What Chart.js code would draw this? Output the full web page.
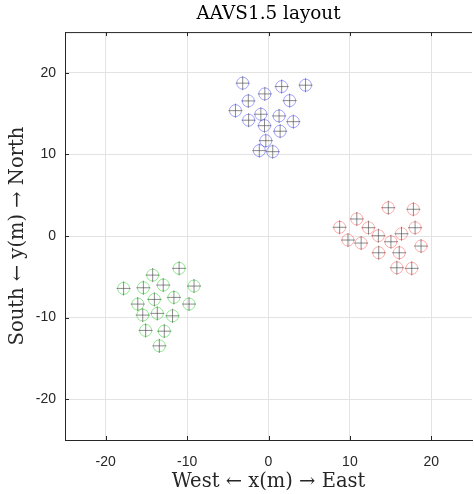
<!DOCTYPE html>
<html><head><meta charset="utf-8">
<script src="https://cdn.jsdelivr.net/npm/chart.js@4"></script>
<style>html,body{margin:0;padding:0;overflow:hidden;background:#fff;width:474px;height:494px}
#wrap{width:480px;height:494px;position:relative}</style></head>
<body><div id="wrap"><canvas id="c" width="480" height="494"></canvas></div>
<script>
// Tile positions (m)
const blueX = [-3.17, 1.62, 4.55, -0.45, -2.48, 2.60, -4.06, -0.94, 1.30, -2.44, 3.05, -0.49, 1.43, -0.33, -1.13, 0.52];
const blueY = [18.74, 18.32, 18.49, 17.42, 16.56, 16.60, 15.37, 14.93, 14.72, 14.20, 14.02, 13.53, 12.85, 11.69, 10.47, 10.34];
const redX = [14.72, 17.80, 10.85, 8.74, 12.28, 18.01, 13.50, 16.34, 9.76, 11.38, 15.04, 18.74, 13.54, 16.06, 15.77, 17.60];
const redY = [3.47, 3.28, 2.09, 1.07, 1.02, 1.02, 0.04, 0.28, -0.49, -0.86, -0.70, -1.23, -2.05, -2.05, -3.89, -3.96];
const greenX = [-10.98, -14.23, -17.80, -15.37, -12.93, -9.15, -16.06, -14.02, -11.62, -9.76, -15.45, -13.66, -11.79, -15.09, -12.80, -13.41];
const greenY = [-3.96, -4.79, -6.42, -6.34, -6.01, -6.13, -8.34, -7.77, -7.52, -8.34, -9.69, -9.48, -9.78, -11.57, -11.66, -13.46];
const xTicks = [-20, -10, 0, 10, 20];
const yTicks = [-20, -10, 0, 10, 20];

const pts = (xs, ys) => xs.map((x, i) => ({x: x, y: ys[i]}));
const axisCol = '#262626';
const crossCol = 'rgba(70,70,70,0.62)';

function circleSet(xs, ys, col) {
  return {data: pts(xs, ys), pointStyle: 'circle', pointRadius: 6, pointBorderWidth: 1,
    pointBorderColor: col, pointBackgroundColor: 'rgba(0,0,0,0)', showLine: false, order: 2};
}
function crossSet(xs, ys) {
  return {data: pts(xs, ys), pointStyle: 'cross', pointRadius: 7, pointBorderWidth: 1,
    pointBorderColor: crossCol, pointBackgroundColor: crossCol, showLine: false, order: 1};
}

const frame = {
  id: 'frame',
  afterDraw(chart) {
    const ctx = chart.ctx, a = chart.chartArea, sx = chart.scales.x, sy = chart.scales.y;
    ctx.save();
    ctx.strokeStyle = axisCol; ctx.lineWidth = 1;
    ctx.beginPath();
    ctx.moveTo(a.left, a.top + 0.5); ctx.lineTo(a.right, a.top + 0.5);
    xTicks.forEach(v => {
      const p = Math.round(sx.getPixelForValue(v)) + 0.5;
      ctx.moveTo(p, a.top); ctx.lineTo(p, a.top + 4);
      ctx.moveTo(p, a.bottom); ctx.lineTo(p, a.bottom - 4);
    });
    yTicks.forEach(v => {
      const p = Math.round(sy.getPixelForValue(v)) + 0.5;
      ctx.moveTo(a.left, p); ctx.lineTo(a.left + 4, p);
    });
    ctx.stroke();
    ctx.restore();
  }
};

new Chart(document.getElementById('c'), {
  type: 'scatter',
  data: {datasets: [
    crossSet(blueX, blueY), circleSet(blueX, blueY, 'rgba(40,40,255,0.42)'),
    crossSet(redX, redY), circleSet(redX, redY, 'rgba(255,40,40,0.38)'),
    crossSet(greenX, greenY), circleSet(greenX, greenY, 'rgba(30,210,30,0.48)')
  ]},
  plugins: [frame],
  options: {
    responsive: false, animation: false,
    layout: {padding: {left: 0, right: 4, top: 0, bottom: 0}},
    plugins: {
      legend: {display: false}, tooltip: {enabled: false},
      title: {display: true, text: 'AAVS1.5 layout', fullSize: false, color: '#000',
        font: {family: 'DejaVu Serif', size: 18.4, weight: 'normal'}, padding: {top: 3, bottom: 7}}
    },
    scales: {
      x: {type: 'linear', min: -25, max: 25,
        afterBuildTicks: s => { s.ticks = xTicks.map(v => ({value: v})); },
        afterFit: s => { s.height = 54; },
        grid: {color: '#e3e3e3', drawTicks: false},
        border: {color: axisCol, width: 1},
        ticks: {color: axisCol, font: {family: 'Liberation Sans', size: 14}, padding: 14},
        title: {display: true, text: 'West \u2190 x(m) \u2192 East', color: '#262626',
          font: {family: 'DejaVu Serif', size: 19.5}, padding: {top: 0, bottom: 0}}
      },
      y: {type: 'linear', min: -25, max: 25,
        afterBuildTicks: s => { s.ticks = yTicks.map(v => ({value: v})); },
        afterFit: s => { s.width = 65; },
        grid: {color: '#e3e3e3', drawTicks: false},
        border: {color: axisCol, width: 1},
        ticks: {color: axisCol, font: {family: 'Liberation Sans', size: 14}, padding: 9},
        title: {display: true, text: 'South \u2190 y(m) \u2192 North', color: '#262626',
          font: {family: 'DejaVu Serif', size: 19.5}, padding: {top: 6, bottom: 0}}
      }
    }
  }
});
</script></body></html>
